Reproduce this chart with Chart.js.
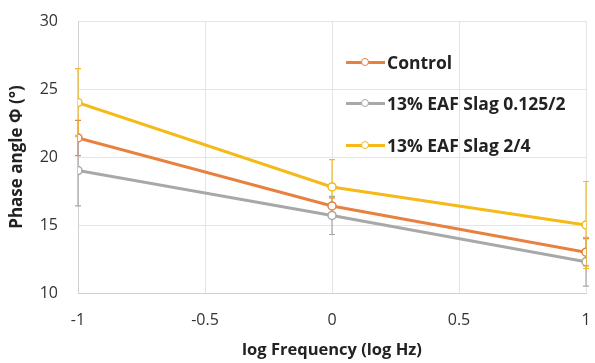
<!DOCTYPE html>
<html><head><meta charset="utf-8">
<script src="https://cdn.jsdelivr.net/npm/chart.js@4.4.1/dist/chart.umd.min.js"></script>
<style>
html,body{margin:0;padding:0;background:#fff;}
#wrap{position:relative;width:595px;height:363px;}
#legend{position:absolute;left:346px;top:41px;font-family:"Open Sans",Lato,sans-serif;font-weight:bold;font-size:17.5px;color:#222;}
.li{display:flex;align-items:center;height:41.5px;}
.sw{position:relative;width:39px;height:12px;margin-right:2px;}
.sw .ln{position:absolute;left:0;right:0;top:5px;height:3px;}
.sw .pt{position:absolute;left:15px;top:2px;width:8px;height:8px;border-radius:50%;border:1.5px solid;background:#fff;box-sizing:border-box;}
</style></head>
<body><div id="wrap"><canvas id="c" width="595" height="363"></canvas><div id="legend"></div></div>
<script>
const xValues = [-1, 0, 1];
const seriesNames = ["Control", "13% EAF Slag 0.125/2", "13% EAF Slag 2/4"];
const controlValues = [21.4, 16.4, 13.0];
const slag0125Values = [19.0, 15.7, 12.3];
const slag24Values = [24.0, 17.8, 15.0];
const controlErr = [1.3, 0.6, 1.0];
const slag0125Err = [2.6, 1.4, 1.8];
const slag24Err = [2.5, 2.0, 3.2];
const xTicks = [-1, -0.5, 0, 0.5, 1];
const yTicks = [10, 15, 20, 25, 30];
const colors = ["#E8803F", "#A8A8A8", "#F5BA18"];

const allValues = [controlValues, slag0125Values, slag24Values];
const allErr = [controlErr, slag0125Err, slag24Err];

const datasets = allValues.map((vals, i) => ({
  label: seriesNames[i],
  data: vals.map((v, j) => ({x: xValues[j], y: v})),
  errors: allErr[i],
  borderColor: colors[i],
  backgroundColor: "#fff",
  borderWidth: 3,
  pointRadius: 4,
  pointBorderWidth: 1.5,
  pointBackgroundColor: "#fff",
  pointBorderColor: colors[i],
  tension: 0
}));

const errorBars = {
  id: "errorBars",
  beforeDatasetsDraw(chart) {
    const ctx = chart.ctx, xs = chart.scales.x, ys = chart.scales.y;
    chart.data.datasets.forEach((ds) => {
      ctx.save();
      ctx.strokeStyle = ds.borderColor;
      ctx.lineWidth = 1.2;
      ds.data.forEach((p, j) => {
        const e = ds.errors[j];
        const px = xs.getPixelForValue(p.x);
        const y1 = ys.getPixelForValue(p.y + e), y2 = ys.getPixelForValue(p.y - e);
        ctx.beginPath();
        ctx.moveTo(px, y1); ctx.lineTo(px, y2);
        ctx.moveTo(px - 3, y1); ctx.lineTo(px + 3, y1);
        ctx.moveTo(px - 3, y2); ctx.lineTo(px + 3, y2);
        ctx.stroke();
      });
      ctx.restore();
    });
  }
};

const fam = "'Open Sans', Lato, sans-serif";
const tickFont = {family: fam, size: 16};
new Chart(document.getElementById("c"), {
  type: "line",
  data: {datasets},
  options: {
    responsive: false,
    animation: false,
    layout: {padding: {top: 21, right: 9, left: 0, bottom: 0}},
    plugins: {legend: {display: false}, tooltip: {enabled: false}},
    scales: {
      x: {
        type: "linear", min: -1, max: 1,
        afterBuildTicks: s => { s.ticks = xTicks.map(v => ({value: v})); },
        afterFit: s => { s.height = 70; s.paddingLeft = 0; s.paddingRight = 0; },
        ticks: {font: tickFont, color: "#333", padding: 18, maxRotation: 0, callback: v => String(v)},
        grid: {color: "#e4e4e4", drawTicks: false},
        border: {color: "#d0d0d0"},
        title: {display: true, text: "log Frequency (log Hz)", font: {family: fam, size: 16.5, weight: "bold"}, color: "#222", padding: {top: 0, bottom: 3}}
      },
      y: {
        min: 10, max: 30,
        afterBuildTicks: s => { s.ticks = yTicks.map(v => ({value: v})); },
        afterFit: s => { s.width = 78; s.paddingTop = 0; s.paddingBottom = 0; },
        ticks: {font: tickFont, color: "#333", padding: 20},
        grid: {color: "#e4e4e4", drawTicks: false},
        border: {color: "#d0d0d0"},
        title: {display: true, text: "Phase angle Φ (°)", font: {family: fam, size: 17, weight: "bold"}, color: "#222", padding: {top: 7, bottom: 0}}
      }
    }
  },
  plugins: [errorBars]
});

const lg = document.getElementById("legend");
seriesNames.forEach((n, i) => {
  const d = document.createElement("div");
  d.className = "li";
  d.innerHTML = `<div class="sw"><div class="ln" style="background:${colors[i]}"></div><div class="pt" style="border-color:${colors[i]}"></div></div><span>${n}</span>`;
  lg.appendChild(d);
});
</script></body></html>
